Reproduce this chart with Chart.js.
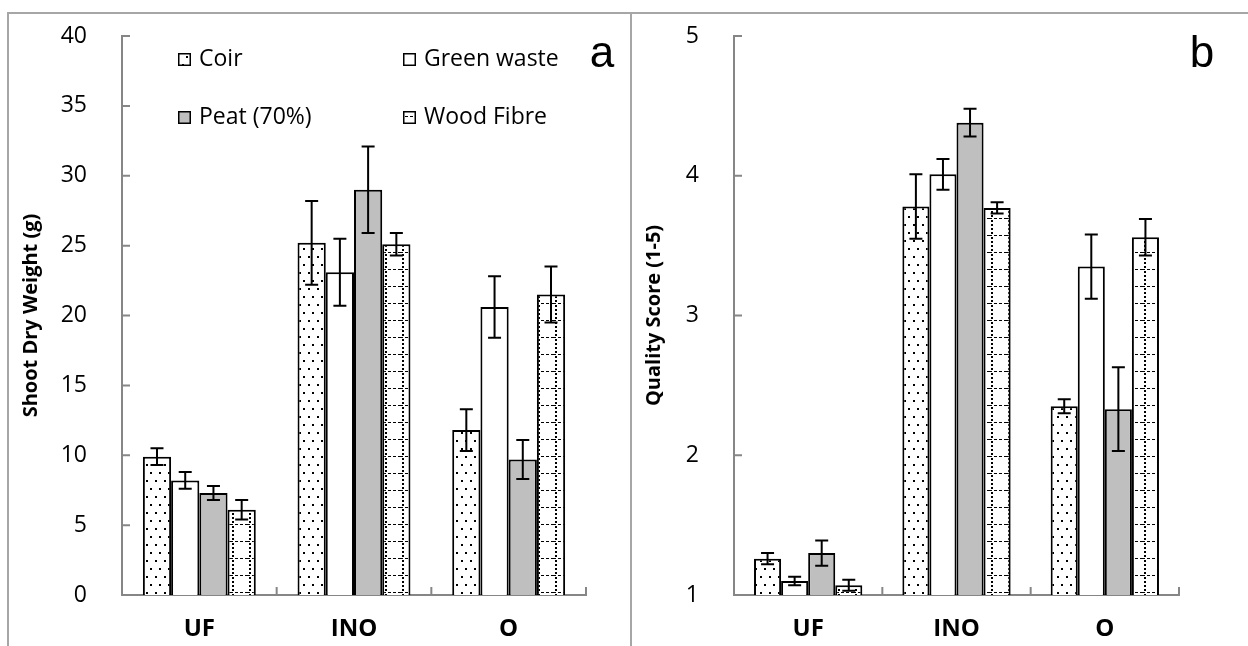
<!DOCTYPE html>
<html>
<head>
<meta charset="utf-8">
<script src="https://cdn.jsdelivr.net/npm/chart.js@4.4.1/dist/chart.umd.min.js"></script>
<style>
  html, body { margin: 0; padding: 0; background: #fff; }
  body { width: 1248px; height: 646px; position: relative; overflow: hidden; }
  .line { position: absolute; background: #a6a6a6; }
  .panel { position: absolute; top: 14px; height: 632px; }
  #panel-a { left: 9px; width: 621px; }
  #panel-b { left: 632px; width: 616px; }
</style>
</head>
<body>
<div class="line" style="left:7px;top:12px;width:1241px;height:2px"></div>
<div class="line" style="left:7px;top:12px;width:2px;height:634px"></div>
<div class="line" style="left:630px;top:12px;width:2px;height:634px"></div>
<div class="panel" id="panel-a"><canvas id="chart-a"></canvas></div>
<div class="panel" id="panel-b"><canvas id="chart-b"></canvas></div>
<script>
const categories = ['UF', 'INO', 'O'];
const seriesNames = ['Coir', 'Green waste', 'Peat (70%)', 'Wood Fibre'];

// (a) shoot dry weight, g
const weightCoir = [9.9, 25.2, 11.8];
const weightGreen = [8.2, 23.1, 20.6];
const weightPeat = [7.3, 29.0, 9.7];
const weightWood = [6.1, 25.1, 21.5];
const weightCoirErr = [0.6, 3.0, 1.5];
const weightGreenErr = [0.6, 2.4, 2.2];
const weightPeatErr = [0.5, 3.1, 1.4];
const weightWoodErr = [0.7, 0.8, 2.0];
const weightTicks = [0, 5, 10, 15, 20, 25, 30, 35, 40];

// (b) quality score, 1-5
const qualityCoir = [1.26, 3.78, 2.35];
const qualityGreen = [1.10, 4.01, 3.35];
const qualityPeat = [1.30, 4.38, 2.33];
const qualityWood = [1.07, 3.77, 3.56];
const qualityCoirErr = [0.04, 0.23, 0.05];
const qualityGreenErr = [0.03, 0.11, 0.23];
const qualityPeatErr = [0.09, 0.10, 0.30];
const qualityWoodErr = [0.04, 0.04, 0.13];
const qualityTicks = [1, 2, 3, 4, 5];

const AXIS = '#868686';
const FONT = 'Open Sans';

function makePattern(w, h, paint) {
  const c = document.createElement('canvas');
  c.width = w;
  c.height = h;
  const g = c.getContext('2d');
  g.fillStyle = '#fff';
  g.fillRect(0, 0, w, h);
  g.fillStyle = '#000';
  paint(g);
  return g.createPattern(c, 'repeat');
}

const coirFill = makePattern(9, 16, (g) => {
  g.fillRect(2, 2, 2, 2);
  g.fillRect(6, 10, 2, 2);
});
const woodFill = makePattern(17, 17, (g) => {
  for (let y = 2; y < 17; y += 4) g.fillRect(2, y, 2, 2);
  for (let x = 0; x < 17; x += 5) g.fillRect(x, 0, 3, 1);
});
const fills = [coirFill, '#ffffff', '#bfbfbf', woodFill];

function decor(cfg) {
  return {
    id: 'decor',
    afterDatasetsDraw(chart) {
      const ctx = chart.ctx;
      const y = chart.scales.y;
      ctx.save();
      ctx.strokeStyle = '#000';
      ctx.lineWidth = 2;
      cfg.errors.forEach((errs, di) => {
        const values = chart.data.datasets[di].data;
        chart.getDatasetMeta(di).data.forEach((bar, i) => {
          const top = y.getPixelForValue(values[i] + errs[i]);
          const bottom = y.getPixelForValue(values[i] - errs[i]);
          ctx.beginPath();
          ctx.moveTo(bar.x, top);
          ctx.lineTo(bar.x, bottom);
          ctx.moveTo(bar.x - 6.5, top);
          ctx.lineTo(bar.x + 6.5, top);
          ctx.moveTo(bar.x - 6.5, bottom);
          ctx.lineTo(bar.x + 6.5, bottom);
          ctx.stroke();
        });
      });
      ctx.restore();
    },
    afterDraw(chart) {
      const ctx = chart.ctx;
      const { left, bottom } = chart.chartArea;
      const x = chart.scales.x;
      const y = chart.scales.y;
      ctx.save();
      // inside tick marks
      ctx.strokeStyle = AXIS;
      ctx.lineWidth = 2;
      ctx.beginPath();
      y.ticks.forEach((t) => {
        const py = y.getPixelForValue(t.value);
        ctx.moveTo(left, py);
        ctx.lineTo(left + 8, py);
      });
      for (let i = 0; i <= categories.length; i++) {
        const px = x.getPixelForValue(i - 0.5);
        ctx.moveTo(px, bottom);
        ctx.lineTo(px, bottom - 8);
      }
      ctx.stroke();

      // legend
      if (cfg.legend) {
        ctx.font = `23px "${FONT}"`;
        ctx.textBaseline = 'alphabetic';
        ctx.textAlign = 'left';
        cfg.legend.forEach((item) => {
          const ds = chart.data.datasets[item.index];
          ctx.fillStyle = ds.backgroundColor;
          ctx.fillRect(item.x, item.y - 13, 13, 13);
          ctx.strokeStyle = '#000';
          ctx.lineWidth = 1.5;
          ctx.strokeRect(item.x + 0.75, item.y - 12.25, 11.5, 11.5);
          ctx.fillStyle = '#000';
          ctx.fillText(ds.label, item.x + 21, item.y);
        });
      }

      // panel letter
      ctx.font = `44px "Liberation Sans"`;
      ctx.fillStyle = '#000';
      ctx.textAlign = 'center';
      ctx.textBaseline = 'alphabetic';
      ctx.fillText(cfg.letter.text, cfg.letter.x, cfg.letter.y);
      ctx.restore();
    },
  };
}

function buildChart(canvasId, cfg) {
  const ticks = cfg.ticks;
  return new Chart(document.getElementById(canvasId), {
    type: 'bar',
    data: {
      labels: categories,
      datasets: cfg.series.map((data, i) => ({
        label: seriesNames[i],
        data,
        backgroundColor: fills[i],
        borderColor: '#000',
        borderWidth: 2,
        borderSkipped: 'start',
        base: ticks[0],
        categoryPercentage: 0.73,
        barPercentage: 1,
      })),
    },
    options: {
      responsive: true,
      maintainAspectRatio: false,
      animation: false,
      layout: { padding: cfg.padding },
      plugins: {
        legend: { display: false },
        tooltip: { enabled: false },
      },
      scales: {
        x: {
          grid: { display: false },
          border: { display: true, color: AXIS, width: 2 },
          ticks: {
            color: '#000',
            padding: 12,
            font: { family: FONT, size: 24, weight: 'bold' },
          },
          afterFit: (s) => {
            s.height = 51;
            s.paddingTop = 0;
          },
        },
        y: {
          min: ticks[0],
          max: ticks[ticks.length - 1],
          grid: { display: false },
          border: { display: true, color: AXIS, width: 2 },
          ticks: {
            stepSize: ticks[1] - ticks[0],
            color: '#000',
            padding: 27,
            font: { family: FONT, size: 23 },
          },
          title: {
            display: true,
            text: cfg.yTitle,
            color: '#000',
            padding: { top: 10, bottom: 0 },
            font: { family: FONT, size: 20, weight: 'bold' },
          },
          afterFit: (s) => {
            s.width = cfg.yWidth;
            s.paddingTop = 0;
            s.paddingBottom = 0;
          },
        },
      },
    },
    plugins: [decor(cfg)],
  });
}

buildChart('chart-a', {
  series: [weightCoir, weightGreen, weightPeat, weightWood],
  errors: [weightCoirErr, weightGreenErr, weightPeatErr, weightWoodErr],
  ticks: weightTicks,
  yTitle: 'Shoot Dry Weight (g)',
  yWidth: 113,
  padding: { top: 22, right: 44, left: 0, bottom: 0 },
  letter: { text: 'a', x: 593, y: 53 },
  legend: [
    { index: 0, x: 169, y: 52 },
    { index: 1, x: 394, y: 52 },
    { index: 2, x: 169, y: 110 },
    { index: 3, x: 394, y: 110 },
  ],
});

buildChart('chart-b', {
  series: [qualityCoir, qualityGreen, qualityPeat, qualityWood],
  errors: [qualityCoirErr, qualityGreenErr, qualityPeatErr, qualityWoodErr],
  ticks: qualityTicks,
  yTitle: 'Quality Score (1-5)',
  yWidth: 102,
  padding: { top: 22, right: 69, left: 0, bottom: 0 },
  letter: { text: 'b', x: 570, y: 53 },
});
</script>
</body>
</html>
